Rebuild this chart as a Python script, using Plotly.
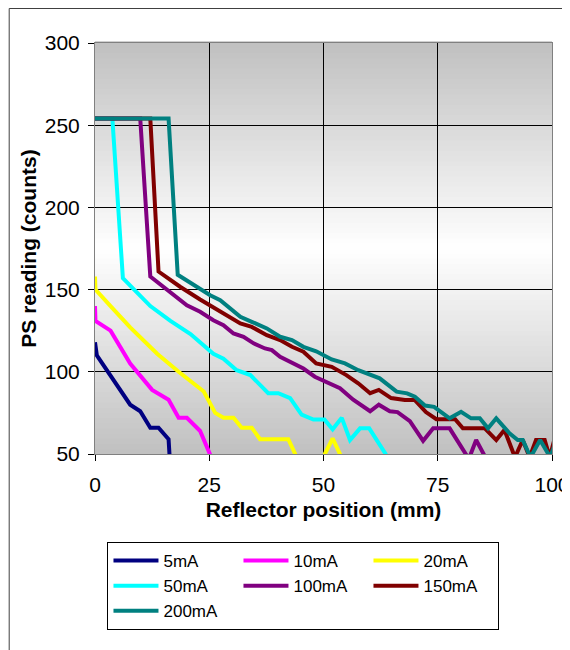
import plotly.graph_objects as go

# ---------------- data ----------------
series_names = ["5mA", "10mA", "20mA", "50mA", "100mA", "150mA", "200mA"]
series_colors = ["#000080", "#FF00FF", "#FFFF00", "#00FFFF", "#800080", "#800000", "#008080"]

x_5mA = [0, 0.4, 7.7, 9.9, 12.1, 13.9, 16.1, 16.4]
y_5mA = [118, 110, 80, 76, 66, 66, 59, 45]

x_10mA = [0, 0.1, 3.4, 7.7, 12.5, 16.1, 18.3, 20.1, 23.0, 25.9]
y_10mA = [140, 131, 125, 105, 89, 83, 72, 72, 64, 45]

x_20mA = [0, 0.1, 3.4, 7.7, 13.6, 18.3, 23.8, 26.3, 28.1, 30.3, 32.1, 34.3, 36.1, 42.3, 43.8, 44.2, 49.9, 50.3, 52.0, 53.6, 54.0]
y_20mA = [158, 150, 140, 127, 111, 100, 88, 75, 72, 72, 66, 66, 59, 59, 50, 45, 45, 50, 59.5, 50, 45]

x_50mA = [0, 3.8, 6.1, 12.1, 16.5, 20.9, 25.9, 28.1, 31.0, 34.0, 37.9, 40.1, 42.7, 45.2, 47.8, 50.2, 52.0, 54.0, 55.8, 58.0, 60.0, 63.6, 64.0]
y_50mA = [254, 254, 157, 140, 131, 123, 111, 108, 101, 98, 87, 87, 84, 74, 71, 71, 65, 72, 58.5, 65.6, 65.6, 50, 45]

x_100mA = [0, 9.9, 12.1, 15.8, 20.1, 23.0, 25.9, 28.1, 30.3, 32.5, 34.7, 37.2, 38.7, 40.5, 43.4, 45.6, 48.1, 50.7, 53.6, 56.5, 60.2, 62.1, 64.5, 66.2, 68.9, 71.8, 74.0, 77.6, 81.8, 83.4, 85.6, 86.0]
y_100mA = [254, 254, 158, 150, 140.5, 136.5, 131.4, 128.4, 123.3, 121.3, 117.3, 114.2, 113.2, 109.1, 105.1, 102, 97, 94, 90, 83, 76, 80, 76, 75.5, 70, 58, 65.6, 65.6, 47, 58.5, 47, 45]

x_150mA = [0, 12.1, 13.9, 18.7, 23.0, 27.4, 31.8, 34.3, 37.6, 40.5, 43.1, 45.6, 48.4, 51.8, 55.0, 57.6, 60.2, 62.1, 64.8, 67.8, 70.0, 72.4, 74.7, 78.8, 80.5, 85.3, 87.8, 89.6, 91.9, 93.6, 95.1, 96.5, 98.4, 99.5, 100.5]
y_150mA = [254, 254, 161, 151.6, 144, 136.5, 129.4, 127.3, 122.3, 119.3, 115.2, 112.2, 105.1, 103, 98, 93, 87, 89, 84, 82.8, 82.8, 75.5, 71.2, 71.2, 65.6, 65.6, 58.5, 64.6, 48, 58.5, 48, 58.5, 58.5, 48, 58.5]

x_200mA = [0, 16.1, 18.1, 21.6, 25.2, 27.4, 31.8, 34.3, 37.6, 40.5, 43.1, 45.6, 48.4, 51.8, 54.7, 57.6, 62.3, 66.0, 68.3, 70.0, 72.2, 74.2, 77.6, 80.1, 82.3, 84.2, 86.0, 87.8, 90.7, 92.5, 93.6, 95.3, 97.4, 99.6, 100.5]
y_200mA = [254, 254, 159, 152.7, 146.6, 143.6, 133.4, 130.4, 126.4, 121.3, 119.3, 115.2, 112.5, 107.5, 105.1, 101, 96, 87.9, 86.9, 84.8, 79.5, 78.7, 71.7, 75.7, 71.7, 71.7, 65.6, 71.7, 62.6, 58.5, 58.5, 48, 58.5, 48, 55]

x_ticks = [0, 25, 50, 75, 100]
y_ticks = [50, 100, 150, 200, 250, 300]

xs = [x_5mA, x_10mA, x_20mA, x_50mA, x_100mA, x_150mA, x_200mA]
ys = [y_5mA, y_10mA, y_20mA, y_50mA, y_100mA, y_150mA, y_200mA]

FONT = "Liberation Sans, Arial, sans-serif"

fig = go.Figure()
for name, color, xv, yv in zip(series_names, series_colors, xs, ys):
    fig.add_trace(go.Scatter(x=xv, y=yv, mode="lines", name=name,
                             line=dict(color=color, width=4)))

# page offset (body margin) is 8 px, so the figure is sized to fit the window
W, H = 562, 642
L, R, T, B = 86.5, 17.5, 35, 196
pw, ph = W - L - R, H - T - B

# gradient background of the plot area (gray -> white -> gray)
shapes = []
N = 80
for i in range(N):
    f = (i + 0.5) / N
    v = int(round(255 - 63 * abs(f - 0.5) / 0.5))
    shapes.append(dict(type="rect", xref="x domain", yref="y domain",
                       x0=0, x1=1, y0=i / N, y1=(i + 1) / N + 0.004,
                       fillcolor=f"rgb({v},{v},{v})", line=dict(width=0),
                       layer="below"))

# outer chart frame (left and top edges visible)
shapes.append(dict(type="rect", xref="paper", yref="paper",
                   x0=(0.5 - L) / pw, x1=(W + 40 - L) / pw,
                   y0=(H - B - (H + 40)) / ph, y1=(H - B - 0.5) / ph,
                   line=dict(color="#404040", width=1), fillcolor="rgba(0,0,0,0)",
                   layer="above"))

fig.update_layout(
    width=W, height=H,
    margin=dict(l=L, r=R, t=T, b=B, autoexpand=False),
    paper_bgcolor="white",
    plot_bgcolor="#c0c0c0",
    font=dict(family=FONT, size=21, color="black"),
    shapes=shapes,
    showlegend=True,
    legend=dict(orientation="h", x=(99 - L) / pw, y=(H - B - 534) / ph,
                xanchor="left", yanchor="top",
                bgcolor="white", bordercolor="black", borderwidth=1,
                font=dict(family=FONT, size=17, color="black"),
                entrywidth=70, itemwidth=45, traceorder="normal"),
)
fig.update_xaxes(range=[0, 100], tickvals=x_ticks, ticks="outside", ticklen=6,
                 tickcolor="black", showgrid=True, gridcolor="black", gridwidth=1,
                 showline=True, linecolor="#808080", linewidth=1, mirror=True,
                 zeroline=False, fixedrange=True, ticklabelstandoff=6,
                 title=dict(text="<b>Reflector position (mm)</b>", standoff=7,
                            font=dict(family=FONT, size=21)))
fig.update_yaxes(range=[50, 300], tickvals=y_ticks, ticks="outside", ticklen=6,
                 tickcolor="black", showgrid=True, gridcolor="black", gridwidth=1,
                 showline=True, linecolor="#808080", linewidth=1, mirror=True,
                 zeroline=False, fixedrange=True, ticklabelstandoff=4,
                 title=dict(text="<b>PS reading (counts)</b>", standoff=2,
                            font=dict(family=FONT, size=21)))

fig.write_html("out.html")
